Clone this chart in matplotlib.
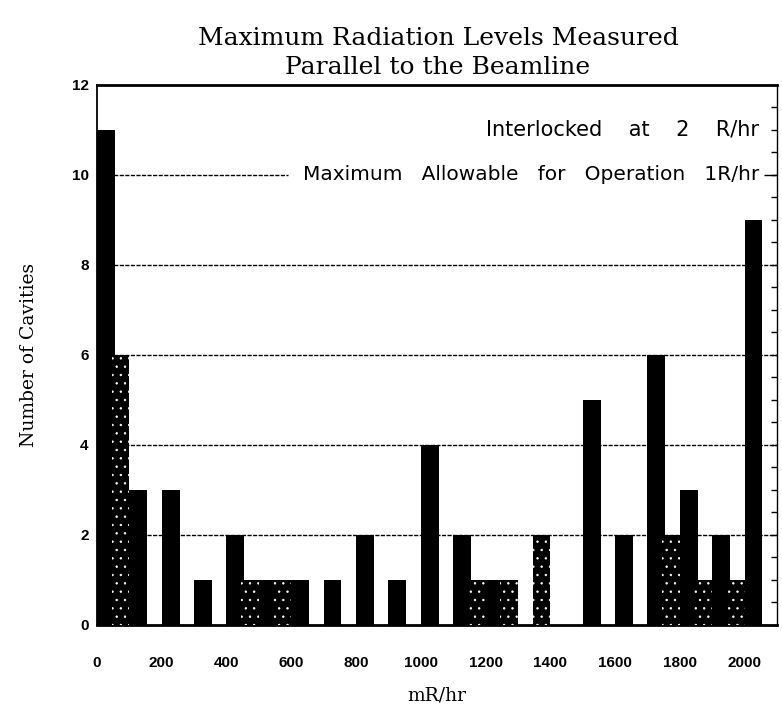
import numpy as np
import matplotlib
matplotlib.use("Agg")
import matplotlib.pyplot as plt

# bins of 100 mR/hr, left edge of each bin
bins = [0, 100, 200, 300, 400, 500, 600, 700, 800, 900, 1000,
        1100, 1200, 1300, 1400, 1500, 1600, 1700, 1800, 1900, 2000]
# solid black bars (left half of each bin)
black_counts = [11, 3, 3, 1, 2, 1, 1, 1, 2, 1, 4,
                2, 1, 0, 0, 5, 2, 6, 3, 2, 9]
# stippled bars (right half of each bin)
stipple_counts = [6, 0, 0, 0, 1, 1, 0, 0, 0, 0, 0,
                  1, 1, 2, 0, 0, 0, 2, 1, 1, 0]

xticks = [0, 200, 400, 600, 800, 1000, 1200, 1400, 1600, 1800, 2000]
yticks = [0, 2, 4, 6, 8, 10, 12]

plt.rcParams['hatch.linewidth'] = 0.5

fig = plt.figure(figsize=(7.82, 7.11), dpi=100)
ax = fig.add_axes([0.124, 0.121, 0.8696, 0.7595])

x = np.array(bins)

# dotted grid lines behind the bars
for yv in [2, 4, 6, 8]:
    ax.axhline(yv, color='black', lw=1.0, ls=(0, (3, 1)), zorder=0)
# the 1R/hr line is broken by its label
ax.hlines(10, 0, 590, color='black', lw=1.0, ls=(0, (3, 1)), zorder=0)
ax.hlines(10, 2060, 2100, color='black', lw=1.0, zorder=0)

ax.bar(x, black_counts, width=55, align='edge', color='black',
       linewidth=0, zorder=2)
ax.bar(x + 45, stipple_counts, width=55, align='edge', color='black',
       edgecolor='white', hatch='..', linewidth=0, zorder=3)

ax.set_xlim(0, 2100)
ax.set_ylim(0, 12)

ax.set_xticks(xticks)
ax.set_yticks(yticks)
ax.tick_params(axis='x', length=0, labelsize=11, pad=22)
ax.tick_params(axis='y', length=0, labelsize=11, pad=6)
for lab in ax.get_xticklabels() + ax.get_yticklabels():
    lab.set_fontweight('bold')
    lab.set_family('Liberation Sans')

# small inward ticks on the right side
rax = ax.twinx()
rax.set_ylim(0, 12)
rax.set_yticks(np.arange(0, 12.01, 0.5))
rax.tick_params(axis='y', direction='in', length=4, width=1, labelright=False)
rax.spines['right'].set_linewidth(1.0)
rax.spines['right'].set_linestyle((0, (4, 1)))
for s in ['top', 'bottom', 'left']:
    rax.spines[s].set_visible(False)

ax.spines['top'].set_linewidth(2.0)
ax.spines['bottom'].set_linewidth(2.0)
ax.spines['left'].set_linewidth(1.3)
ax.spines['right'].set_visible(False)

ax.text(2045, 11.0, 'Interlocked    at    2    R/hr', ha='right', va='center',
        fontsize=15, family='DejaVu Sans', zorder=5)
ax.text(2045, 10.0, 'Maximum   Allowable   for   Operation   1R/hr', ha='right',
        va='center', fontsize=14.5, family='DejaVu Sans', zorder=5)

fig.suptitle('Maximum Radiation Levels Measured\nParallel to the Beamline',
             x=0.56, y=0.962, fontsize=18, family='DejaVu Serif',
             linespacing=1.35)
ax.set_xlabel('mR/hr', fontsize=13.5, family='DejaVu Serif', labelpad=12)
ax.set_ylabel('Number of Cavities', fontsize=13.5, family='DejaVu Serif',
              labelpad=24)

fig.savefig('out.png', dpi=100)
